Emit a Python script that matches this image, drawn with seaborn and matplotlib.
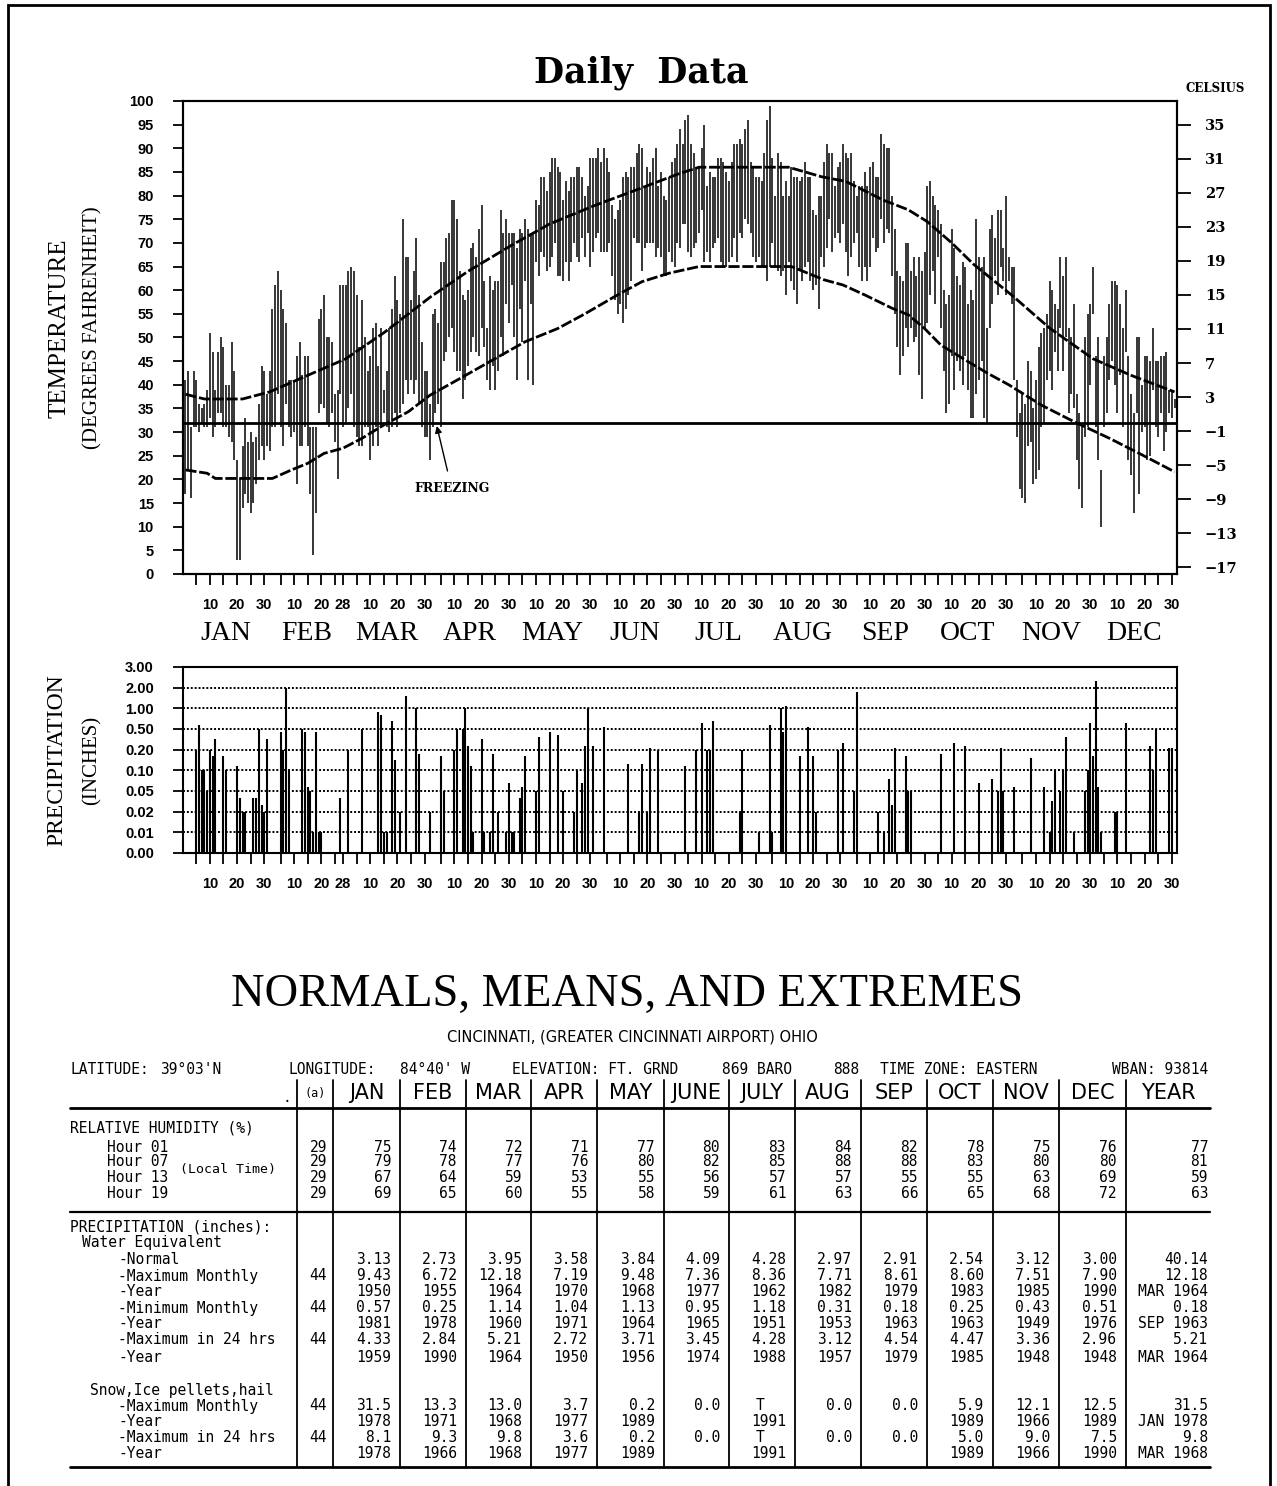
import numpy as np
import pandas as pd
import matplotlib
matplotlib.use("Agg")
import matplotlib.pyplot as plt
import seaborn as sns
from matplotlib.patches import Rectangle
from matplotlib.lines import Line2D

# ---------------- data ----------------
MONTHS = ["JAN", "FEB", "MAR", "APR", "MAY", "JUN", "JUL", "AUG", "SEP", "OCT", "NOV", "DEC"]
MONTH_DAYS = [31, 28, 31, 30, 31, 30, 31, 31, 30, 31, 30, 31]

JAN_HI = [41,43,31,43,41,36,35,36,39,51,47,39,47,50,48,40,40,49,43,24,20,27,33,28,30,28,29,36,44,43,38]
JAN_LO = [17,22,16,31,31,30,32,31,31,33,29,31,34,34,31,31,29,28,24,3,3,14,17,15,13,15,19,24,27,24,27]
FEB_HI = [43,56,61,64,60,56,53,41,41,41,46,49,42,46,46,31,31,31,54,56,59,50,50,49,38,39,61,61]
FEB_LO = [26,31,31,38,31,27,36,31,29,30,19,27,27,31,27,17,4,13,34,36,35,32,31,34,28,20,38,31]
MAR_HI = [61,64,65,64,59,48,58,50,43,46,52,53,44,52,39,43,52,56,63,58,55,75,67,67,58,64,71,59,49,43,43]
MAR_LO = [32,35,38,31,29,27,27,31,31,24,27,31,27,31,34,31,30,31,34,31,34,36,41,38,41,38,41,36,31,29,29]
APR_HI = [36,55,56,53,66,66,71,72,79,79,75,64,59,58,60,69,70,67,73,78,62,52,63,60,62,62,77,72,75,72]
APR_LO = [24,31,34,36,31,45,47,50,52,47,43,43,37,41,44,47,50,47,46,52,48,41,39,44,39,43,50,46,57,53]
MAY_HI = [72,72,69,73,72,75,73,72,72,79,78,84,84,81,85,88,88,86,85,79,83,81,84,84,86,86,84,80,82,88,88]
MAY_LO = [61,50,41,56,49,62,41,57,40,66,63,68,67,64,65,67,70,63,63,62,66,62,66,70,67,66,71,67,72,65,68]
JUN_HI = [88,90,87,90,88,85,78,75,77,79,84,85,84,86,86,89,91,90,82,86,85,88,90,82,85,80,79,84,87,88]
JUN_LO = [71,72,68,68,68,70,63,58,55,57,53,56,59,62,71,70,70,64,69,70,70,70,67,69,67,63,63,68,66,65]
JUL_HI = [91,94,91,96,97,91,89,86,86,90,95,82,85,84,84,88,88,87,85,83,87,91,91,92,91,94,96,87,86,84,84]
JUL_LO = [70,69,74,74,68,67,69,70,72,77,66,68,66,69,70,71,66,65,65,66,67,71,66,72,71,75,74,72,67,66,67]
AUG_HI = [83,89,96,99,88,80,89,87,80,83,80,86,84,84,83,84,87,84,84,77,76,80,80,87,91,89,89,82,86,87,91]
AUG_LO = [65,65,62,65,70,65,64,63,64,59,66,62,60,57,64,62,65,66,62,60,61,56,67,65,69,75,68,71,72,70,74]
SEP_HI = [89,88,89,83,80,82,82,85,82,86,87,84,84,93,91,90,90,80,73,64,63,62,70,70,64,67,63,67,64,68]
SEP_LO = [68,63,67,70,72,65,62,65,62,65,71,68,69,75,70,73,72,63,55,48,42,46,52,48,52,49,50,42,37,52]
OCT_HI = [82,83,80,78,77,74,60,57,59,73,69,63,61,66,65,57,60,58,75,67,65,67,52,73,76,71,77,77,69,80,67]
OCT_LO = [53,59,64,57,67,52,43,34,36,46,39,45,43,40,46,39,33,33,38,41,45,33,32,52,57,63,59,65,62,59,62]
NOV_HI = [65,65,41,34,38,36,45,43,35,41,48,51,52,55,62,60,57,56,67,63,67,52,50,57,38,34,32,50,55,57]
NOV_LO = [57,41,29,18,16,15,27,28,19,20,22,31,32,41,43,39,47,43,52,43,50,34,38,35,24,18,14,29,31,40]
DEC_HI = [65,46,50,22,46,50,57,62,62,61,57,52,60,46,38,34,50,50,40,46,46,45,52,45,45,46,46,47,39,39,37]
DEC_LO = [55,31,24,10,31,34,41,45,40,34,42,31,47,24,21,13,34,17,30,31,24,25,39,31,29,34,26,30,34,33,35]

NORM_MAX_DAY = [1, 8, 22, 32, 46, 60, 74, 91, 105, 121, 135, 152, 166, 182, 190, 223, 235, 244,
                258, 267, 274, 283, 291, 305, 319, 335, 349, 365]
NORM_MAX = [38, 37, 37, 38.5, 42, 45.5, 51, 58.5, 64, 69.5, 74, 78, 81, 84.5, 86, 86, 84, 83,
            79, 77, 74.5, 70, 65.5, 59, 52, 45.5, 42, 38.5]
NORM_MIN_DAY = [1, 9, 12, 33, 40, 46, 52, 59, 66, 74, 83, 91, 101, 113, 126, 138, 148, 160, 169, 179,
                190, 224, 236, 243, 251, 261, 267, 273, 279, 287, 296, 304, 316, 328, 341, 353, 365]
NORM_MIN = [22, 21.3, 20.2, 20.2, 22, 23.4, 25.5, 26.6, 28.7, 31.5, 34.3, 37.8, 41, 44.9, 49.1, 51.9, 55, 59, 61.8, 63.6,
            65, 65, 62.2, 61.1, 59, 56.2, 54.8, 51.9, 48.4, 45.6, 42.5, 40, 35.7, 32.2, 28.7, 25.2, 21.6]
FREEZING = 32
CELSIUS_TICKS = [35, 31, 27, 23, 19, 15, 11, 7, 3, -1, -5, -9, -13, -17]

PRECIP_LEVELS = [0.00, 0.01, 0.02, 0.05, 0.10, 0.20, 0.50, 1.00, 2.00, 3.00]
PRECIP_DAY = [5,6,7,8,9,10,11,12,15,16,20,21,22,23,26,27,28,29,30,31,36,37,38,39,44,45,46,47,48,49,
              50,51,58,61,66,72,73,74,75,77,78,80,82,86,87,91,95,96,100,101,103,104,105,106,107,110,
              111,113,114,116,119,120,121,122,124,125,126,130,131,135,138,140,144,145,147,148,149,151,
              155,164,168,169,171,172,175,
              185,189,191,193,194,195,205,206,212,216,217,220,221,222,227,230,232,233,241,243,247,248,
              256,258,260,261,262,266,267,268,279,284,288,293,298,300,301,302,306,312,317,319,320,321,
              323,324,325,328,332,333,334,335,336,337,338,343,344,347,356,357,358,363,364]
PRECIP_IN = [0.20,0.60,0.10,0.10,0.05,0.20,0.17,0.35,0.17,0.10,0.12,0.04,0.02,0.02,0.04,0.04,0.50,0.03,0.02,0.35,
             0.45,0.20,2.00,0.10,0.50,0.45,0.06,0.05,0.01,0.45,0.01,0.01,0.04,0.20,0.50,0.90,0.85,0.01,0.01,0.70,
             0.15,0.02,1.60,1.00,0.18,0.02,0.17,0.05,0.20,0.50,0.50,1.00,0.25,0.12,0.01,0.35,0.01,0.01,0.18,0.02,
             0.01,0.07,0.01,0.01,0.04,0.06,0.17,0.05,0.38,0.45,0.42,0.05,0.02,0.10,0.07,0.25,1.00,0.25,0.55,0.13,
             0.02,0.13,0.02,0.22,0.20,
             0.12,0.20,0.65,0.20,0.20,0.70,0.02,0.20,0.01,0.60,0.01,1.00,0.45,1.10,0.17,0.55,0.17,0.02,0.20,0.30,
             0.05,1.80,0.02,0.01,0.08,0.03,0.22,0.17,0.05,0.05,0.18,0.30,0.25,0.07,0.08,0.05,0.22,0.05,0.06,0.16,
             0.06,0.01,0.035,0.10,0.05,0.10,0.38,0.01,0.05,0.10,0.65,0.17,2.30,0.06,0.01,0.02,0.02,0.65,0.25,0.10,
             0.50,0.22,0.23]

# table data
TABLE_MONTHS = ["JAN", "FEB", "MAR", "APR", "MAY", "JUNE", "JULY", "AUG", "SEP", "OCT", "NOV", "DEC", "YEAR"]
RH_01 = ["75","74","72","71","77","80","83","84","82","78","75","76","77"]
RH_07 = ["79","78","77","76","80","82","85","88","88","83","80","80","81"]
RH_13 = ["67","64","59","53","55","56","57","57","55","55","63","69","59"]
RH_19 = ["69","65","60","55","58","59","61","63","66","65","68","72","63"]
PCP_NORMAL = ["3.13","2.73","3.95","3.58","3.84","4.09","4.28","2.97","2.91","2.54","3.12","3.00","40.14"]
PCP_MAX = ["9.43","6.72","12.18","7.19","9.48","7.36","8.36","7.71","8.61","8.60","7.51","7.90","12.18"]
PCP_MAX_YR = ["1950","1955","1964","1970","1968","1977","1962","1982","1979","1983","1985","1990","MAR 1964"]
PCP_MIN = ["0.57","0.25","1.14","1.04","1.13","0.95","1.18","0.31","0.18","0.25","0.43","0.51","0.18"]
PCP_MIN_YR = ["1981","1978","1960","1971","1964","1965","1951","1953","1963","1963","1949","1976","SEP 1963"]
PCP_24 = ["4.33","2.84","5.21","2.72","3.71","3.45","4.28","3.12","4.54","4.47","3.36","2.96","5.21"]
PCP_24_YR = ["1959","1990","1964","1950","1956","1974","1988","1957","1979","1985","1948","1948","MAR 1964"]
SNOW_MAX = ["31.5","13.3","13.0","3.7","0.2","0.0","T","0.0","0.0","5.9","12.1","12.5","31.5"]
SNOW_MAX_YR = ["1978","1971","1968","1977","1989","","1991","","","1989","1966","1989","JAN 1978"]
SNOW_24 = ["8.1","9.3","9.8","3.6","0.2","0.0","T","0.0","0.0","5.0","9.0","7.5","9.8"]
SNOW_24_YR = ["1978","1966","1968","1977","1989","","1991","","","1989","1966","1990","MAR 1968"]

# ---------------- style ----------------
sns.set_theme(style="ticks")
plt.rcParams["font.family"] = ["Liberation Sans", "DejaVu Sans"]
plt.rcParams["axes.linewidth"] = 1.5
plt.rcParams["axes.edgecolor"] = "black"
plt.rcParams["text.color"] = "black"
plt.rcParams["axes.labelcolor"] = "black"
plt.rcParams["xtick.color"] = "black"
plt.rcParams["ytick.color"] = "black"

W, H = 1277, 1486
fig = plt.figure(figsize=(W / 100, H / 100), dpi=100)
fig.patch.set_facecolor("white")


def fx(x):
    return x / W


def fy(y):
    return 1 - y / H


fig.add_artist(Rectangle((fx(8), fy(1520)), fx(1270) - fx(8), fy(5) - fy(1520),
                         transform=fig.transFigure, fill=False, lw=2, ec="black"))

fig.text(fx(641), fy(73), "Daily  Data", ha="center", va="center", fontsize=25,
         fontweight="bold", family="DejaVu Serif")

# ---------------- build daily frame ----------------
HI_ALL = [JAN_HI, FEB_HI, MAR_HI, APR_HI, MAY_HI, JUN_HI, JUL_HI, AUG_HI, SEP_HI, OCT_HI, NOV_HI, DEC_HI]
LO_ALL = [JAN_LO, FEB_LO, MAR_LO, APR_LO, MAY_LO, JUN_LO, JUL_LO, AUG_LO, SEP_LO, OCT_LO, NOV_LO, DEC_LO]
for m, (h, l) in enumerate(zip(HI_ALL, LO_ALL)):
    if len(h) != MONTH_DAYS[m] or len(l) != MONTH_DAYS[m]:
        raise ValueError(f"month {m} length {len(h)} {len(l)}")
daily = pd.DataFrame({"day": np.arange(1, 366),
                      "hi": np.concatenate(HI_ALL),
                      "lo": np.concatenate(LO_ALL)})
month_start = np.concatenate([[1], 1 + np.cumsum(MONTH_DAYS)[:-1]])

tick_pos, tick_lab = [], []
for m in range(12):
    dlist = [5, 10, 15, 20, 25, 28] if MONTH_DAYS[m] == 28 else [5, 10, 15, 20, 25, 30]
    for d in dlist:
        tick_pos.append(month_start[m] + d - 1)
        tick_lab.append(str(d) if d in (10, 20, 28, 30) else "")

XLIM = (0.1, 365.9)

# ---------------- temperature panel ----------------
ax = fig.add_axes([fx(183), fy(574), (1177 - 183) / W, (574 - 101) / H])
ax.vlines(daily["day"], daily["lo"], daily["hi"], color="black", lw=1.1)
sns.lineplot(x=NORM_MAX_DAY, y=NORM_MAX, ax=ax, color="black", lw=2.0)
sns.lineplot(x=NORM_MIN_DAY, y=NORM_MIN, ax=ax, color="black", lw=2.0)
for ln in ax.lines[-2:]:
    ln.set_dashes([4, 1])
ax.axhline(FREEZING, color="black", lw=2)
ax.set_xlim(*XLIM)
ax.set_ylim(0, 100)
ax.set_xticks(tick_pos)
ax.set_xticklabels(tick_lab)
ax.set_yticks(range(0, 101, 5))
ax.set_yticklabels([str(v) for v in range(0, 101, 5)])
ax.tick_params(axis="x", direction="out", length=8, width=1.3, pad=9, labelsize=10.5)
ax.tick_params(axis="y", direction="out", length=7, width=1.3, pad=14, labelsize=10.5)
for lb in ax.get_xticklabels() + ax.get_yticklabels():
    lb.set_fontweight("bold")
ax.set_xlabel("")
ax.set_ylabel("")

ax2 = ax.twinx()
ax2.set_ylim(0, 100)
ax2.set_yticks([c * 1.8 + 32 for c in CELSIUS_TICKS])
ax2.set_yticklabels([f"{c}" if c >= 0 else f"\u2212{abs(c)}" for c in CELSIUS_TICKS])
ax2.tick_params(axis="y", direction="out", length=10, width=1.3, pad=10, labelsize=10.5)
for lb in ax2.get_yticklabels():
    lb.set_fontweight("bold")
    lb.set_family("DejaVu Serif")
fig.text(fx(1215), fy(88), "CELSIUS", ha="center", va="center", fontsize=8.5,
         fontweight="bold", family="DejaVu Serif")

for m in range(12):
    mid = month_start[m] + MONTH_DAYS[m] / 2 - 0.5
    ax.text(mid, -(634 - 574) / 473, MONTHS[m], transform=ax.get_xaxis_transform(),
            ha="center", va="center", fontsize=20, family="Liberation Serif")

ax.annotate("FREEZING", xy=(93.5, 31.3), xytext=(99, 18), ha="center", va="center",
            fontsize=9, fontweight="bold", family="DejaVu Serif",
            arrowprops=dict(arrowstyle="-|>", color="black", lw=1.0, shrinkA=6, shrinkB=0,
                            mutation_scale=10))

fig.text(fx(60), fy(328), "TEMPERATURE", rotation=90, ha="center", va="center",
         fontsize=18, family="Liberation Serif")
fig.text(fx(93), fy(328), "(DEGREES FAHRENHEIT)", rotation=90, ha="center", va="center",
         fontsize=15, family="Liberation Serif")

# ---------------- precipitation panel ----------------
lv_idx = np.arange(len(PRECIP_LEVELS), dtype=float)


def p_fwd(v):
    return np.interp(v, PRECIP_LEVELS, lv_idx)


def p_inv(u):
    return np.interp(u, lv_idx, PRECIP_LEVELS)


axp = fig.add_axes([fx(183), fy(853), (1177 - 183) / W, (853 - 667) / H])
axp.set_yscale("function", functions=(p_fwd, p_inv))
axp.set_ylim(0, 3.0)
axp.set_xlim(*XLIM)
for lv in PRECIP_LEVELS[1:-1]:
    axp.axhline(lv, color="black", lw=1.4, ls=(0, (1, 1)), zorder=1)
axp.vlines(PRECIP_DAY, 0, PRECIP_IN, color="black", lw=1.5, zorder=2)
axp.set_yticks(PRECIP_LEVELS)
axp.set_yticklabels([f"{v:.2f}" for v in PRECIP_LEVELS])
axp.minorticks_off()
axp.set_xticks(tick_pos)
axp.set_xticklabels(tick_lab)
axp.tick_params(axis="x", direction="out", length=8, width=1.3, pad=9, labelsize=10.5)
axp.tick_params(axis="y", direction="out", length=7, width=1.3, pad=14, labelsize=10.5)
for lb in axp.get_xticklabels() + axp.get_yticklabels():
    lb.set_fontweight("bold")

fig.text(fx(57), fy(760), "PRECIPITATION", rotation=90, ha="center", va="center",
         fontsize=17, family="Liberation Serif")
fig.text(fx(92), fy(760), "(INCHES)", rotation=90, ha="center", va="center",
         fontsize=15, family="Liberation Serif")

# ---------------- normals table ----------------
fig.text(fx(627), fy(995), "NORMALS, MEANS, AND EXTREMES", ha="center", va="center",
         fontsize=33.5, family="Liberation Serif")
fig.text(fx(632), fy(1037), "CINCINNATI, (GREATER CINCINNATI AIRPORT) OHIO", ha="center",
         va="center", fontsize=10.5, family="DejaVu Sans")

MONO = "DejaVu Sans Mono"
TS = 10.5


def t(x, y, s, ha="left", size=TS, family=MONO):
    fig.text(fx(x), fy(y), s, ha=ha, va="center", fontsize=size, family=family)


t(70, 1069, "LATITUDE:")
t(160, 1069, "39°03'N")
t(288, 1069, "LONGITUDE:")
t(400, 1069, "84°40' W")
t(512, 1069, "ELEVATION: FT. GRND")
t(722, 1069, "869 BARO")
t(833, 1069, "888")
t(880, 1069, "TIME ZONE: EASTERN")
t(1208, 1069, "WBAN: 93814", ha="right")

SEPS = [297, 333, 400, 466, 531, 597, 664, 729, 795, 861, 927, 993, 1059, 1126, 1210]
for xs in SEPS[:-1]:
    fig.add_artist(Line2D([fx(xs), fx(xs)], [fy(1080), fy(1467)], transform=fig.transFigure,
                          color="black", lw=1.3))
for yl, lw in [(1108, 2.0), (1212, 1.6), (1467, 2.0)]:
    fig.add_artist(Line2D([fx(70), fx(1210)], [fy(yl), fy(yl)], transform=fig.transFigure,
                          color="black", lw=lw))

t(287, 1097, ".", ha="center")
t(315, 1093, "(a)", ha="center", size=8.5)
for i, name in enumerate(TABLE_MONTHS):
    xc = (SEPS[i + 1] + SEPS[i + 2]) / 2
    t(xc, 1093, name, ha="center", size=15, family="DejaVu Sans")


def row(y, label, lx, por, vals):
    if label:
        t(lx, y, label)
    if por:
        t(327, y, por, ha="right")
    for i, v in enumerate(vals):
        if not v:
            continue
        xr = SEPS[i + 2] - 9 if i < 12 else 1208
        if v == "T":
            xr -= 22
        t(xr, y, v, ha="right")


t(70, 1128, "RELATIVE HUMIDITY (%)")
row(1147, "Hour 01", 107, "29", RH_01)
row(1162, "Hour 07", 107, "29", RH_07)
row(1178, "Hour 13", 107, "29", RH_13)
row(1193, "Hour 19", 107, "29", RH_19)
t(180, 1170, "(Local Time)", size=9.5)

t(70, 1227, "PRECIPITATION (inches):")
t(82, 1243, "Water Equivalent")
row(1260, "-Normal", 118, "", PCP_NORMAL)
row(1276, "-Maximum Monthly", 118, "44", PCP_MAX)
row(1292, "-Year", 118, "", PCP_MAX_YR)
row(1308, "-Minimum Monthly", 118, "44", PCP_MIN)
row(1324, "-Year", 118, "", PCP_MIN_YR)
row(1340, "-Maximum in 24 hrs", 118, "44", PCP_24)
row(1357, "-Year", 118, "", PCP_24_YR)

t(90, 1390, "Snow,Ice pellets,hail")
row(1406, "-Maximum Monthly", 118, "44", SNOW_MAX)
row(1422, "-Year", 118, "", SNOW_MAX_YR)
row(1438, "-Maximum in 24 hrs", 118, "44", SNOW_24)
row(1454, "-Year", 118, "", SNOW_24_YR)

fig.savefig("out.png", dpi=100, facecolor="white")
